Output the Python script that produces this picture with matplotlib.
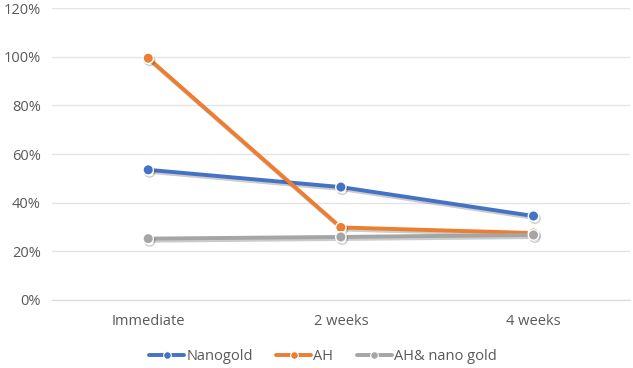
import matplotlib
matplotlib.use("Agg")
import matplotlib.pyplot as plt
import matplotlib.patheffects as pe
from matplotlib.ticker import PercentFormatter

categories = ["Immediate", "2 weeks", "4 weeks"]
nanogold = [53.5, 46.4, 34.5]
ah = [99.4, 29.8, 27.5]
ah_nano = [25.2, 25.9, 26.7]
series_names = ["Nanogold", "AH", "AH& nano gold"]
colors = ["#4472C4", "#ED7D31", "#A5A5A5"]
yticks = [0, 20, 40, 60, 80, 100, 120]

plt.rcParams['font.family'] = ['Open Sans', 'DejaVu Sans']
fig = plt.figure(figsize=(6.33, 3.68), dpi=100)
ax = fig.add_axes([0.082, 0.185, 0.913, 0.793])

x = list(range(len(categories)))
shadow = [pe.SimpleLineShadow(offset=(1, -1.5), shadow_color="black", alpha=0.2), pe.Normal()]
for name, vals, c in zip(series_names, [nanogold, ah, ah_nano], colors):
    ax.plot(x, vals, color=c, lw=2.8, marker='o', markersize=7.5,
            markerfacecolor=c, markeredgecolor='white', markeredgewidth=1.0,
            label=name, path_effects=shadow, solid_capstyle='round', zorder=3)

ax.set_xlim(-0.5, len(categories) - 0.5)
ax.set_ylim(0, 120)
ax.set_yticks(yticks)
ax.yaxis.set_major_formatter(PercentFormatter(decimals=0))
ax.set_xticks(x)
ax.set_xticklabels(categories)
ax.grid(axis='y', color='#E3E3E8', lw=1)
ax.set_axisbelow(True)
for s in ['top', 'right', 'left']:
    ax.spines[s].set_visible(False)
ax.spines['bottom'].set_color('#D9D9D9')
ax.tick_params(axis='both', length=0, colors='#595959', labelsize=10.5)
ax.tick_params(axis='y', pad=8)
ax.tick_params(axis='x', pad=10)

leg = fig.legend(loc='lower center', bbox_to_anchor=(0.51, -0.025), ncol=3, frameon=False,
                 fontsize=10.5, handlelength=2.4, columnspacing=1.6, handletextpad=0.15)
for t in leg.get_texts():
    t.set_color('#595959')
for h in leg.legend_handles:
    h.set_markersize(5.5)
    h.set_markeredgewidth(0.8)
    h.set_path_effects([])

fig.savefig("out.png", dpi=100)
